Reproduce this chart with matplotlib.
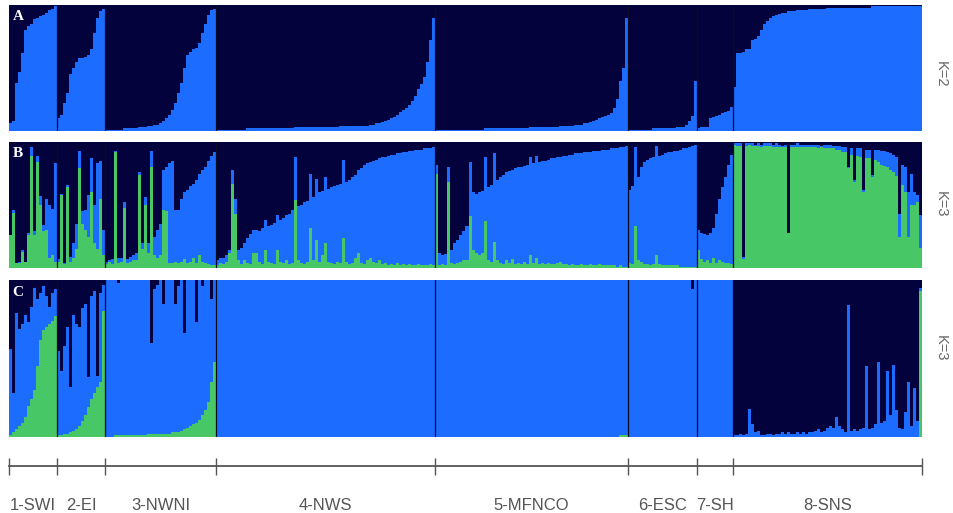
import numpy as np
import matplotlib.pyplot as plt

# --- groups / labels ---
groups = ["1-SWI", "2-EI", "3-NWNI", "4-NWS", "5-MFNCO", "6-ESC", "7-SH", "8-SNS"]
group_sizes = [16, 16, 37, 73, 64, 23, 12, 63]
panel_letters = ["A", "B", "C"]
k_labels = ["K=2", "K=3", "K=3"]

# --- membership proportions (%), one value per individual, groups in order ---
# panel A (K=2): blue cluster, the rest is dark cluster
a_blue = [
    6, 8, 38, 47, 62, 80, 83, 85, 89, 90, 91, 92, 94, 96, 97, 99,
    10, 13, 22, 30, 45, 50, 55, 58, 58, 59, 60, 65, 78, 90, 95, 97,
    1, 1, 1, 1, 1, 1, 2, 2, 2, 2, 2, 3, 3, 3, 4, 4, 5, 5, 6, 8, 10, 13, 17, 22, 30,
    38, 50, 60, 63, 65, 66, 70, 78, 85, 92, 96, 97,
    1, 1, 1, 1, 1, 1, 1, 1, 1, 1, 2, 2, 2, 2, 2, 2, 2, 2, 2, 2, 2, 2, 2, 2, 2, 2,
    3, 3, 3, 3, 3, 3, 3, 3, 3, 3, 3, 3, 3, 3, 3, 4, 4, 4, 4, 4, 4, 4, 4, 4, 4,
    5, 5, 6, 6, 7, 8, 9, 10, 11, 13, 15, 17, 18, 21, 24, 28, 33, 37, 43, 55, 72, 90,
    1, 1, 1, 1, 1, 1, 1, 1, 1, 1, 1, 1, 1, 1, 1, 1, 2, 2, 2, 2, 2, 2, 2, 2, 2, 2,
    2, 2, 2, 2, 2, 3, 3, 3, 3, 3, 3, 3, 3, 3, 3, 4, 4, 4, 4, 4, 5, 5, 5, 6, 6,
    7, 8, 9, 10, 11, 12, 13, 14, 18, 25, 40, 50, 90,
    1, 1, 1, 1, 1, 1, 1, 1, 2, 2, 2, 2, 2, 2, 2, 2, 3, 3, 3, 5, 8, 12, 40,
    2, 3, 3, 3, 10, 11, 12, 13, 14, 15, 16, 19,
    35, 62, 62, 63, 65, 65, 72, 73, 75, 80, 85, 87, 90, 91, 92, 93, 94, 94, 95, 95, 95,
    96, 96, 96, 96, 97, 97, 97, 97, 97, 97, 98, 98, 98, 98, 98, 98, 98, 98, 98, 98,
    98, 98, 98, 98, 98, 99, 99, 99, 99, 99, 99, 99, 99, 99, 99, 99, 99, 99, 99, 99, 99, 99,
]

# panel B (K=3): green and blue clusters, the rest is dark cluster
b_green = [
    26, 44, 4, 4, 13, 5, 26, 89, 26, 84, 50, 29, 30, 8, 10, 5,
    5, 58, 3, 64, 5, 8, 15, 79, 35, 30, 25, 60, 20, 15, 55, 10,
    3, 5, 3, 92, 4, 5, 48, 4, 5, 6, 6, 74, 15, 50, 12, 80, 10, 8, 10, 46,
    45, 4, 4, 5, 4, 5, 7, 4, 5, 8, 4, 10, 5, 4, 3, 2, 2,
    2, 4, 3, 5, 12, 67, 43, 6, 3, 6, 4, 3, 12, 12, 5, 3, 14, 5, 4, 3,
    14, 5, 4, 6, 3, 4, 54, 6, 4, 3, 5, 32, 6, 22, 5, 10, 20, 5, 4, 3,
    5, 4, 24, 5, 3, 4, 8, 12, 4, 3, 6, 8, 5, 4, 6, 3, 4, 2, 3, 2,
    4, 2, 3, 2, 3, 2, 2, 3, 2, 2, 2, 3, 2,
    75, 2, 3, 2, 68, 4, 3, 4, 5, 6, 6, 41, 14, 12, 10, 12, 37, 6, 5, 21,
    6, 4, 3, 6, 4, 7, 3, 4, 3, 5, 3, 10, 4, 8, 3, 4, 3, 4, 3, 3,
    4, 5, 3, 3, 2, 3, 2, 2, 3, 2, 2, 3, 2, 2, 3, 2, 2, 2, 2, 2, 1, 2, 1, 1,
    4, 3, 33, 6, 5, 3, 3, 2, 3, 10, 3, 2, 2, 2, 2, 2, 2, 1, 1, 1, 1, 1, 1,
    14, 7, 5, 6, 4, 8, 4, 6, 5, 4, 4, 3,
    98, 97, 97, 7, 97, 98, 97, 97, 97, 96, 97, 97, 97, 96, 96, 96, 96, 96, 28, 96,
    96, 96, 96, 96, 96, 96, 96, 96, 95, 96, 95, 95, 95, 95, 94, 94, 92, 92, 79, 90,
    68, 89, 88, 60, 87, 87, 72, 86, 84, 82, 81, 80, 78, 76, 73, 25, 66, 60, 25, 50,
    50, 52, 16,
]
b_blue = [
    0, 2, 0, 1, 1, 0, 2, 7, 3, 5, 7, 5, 25, 42, 37, 78,
    2, 1, 1, 2, 4, 12, 20, 14, 10, 16, 33, 27, 30, 68, 30, 20,
    2, 1, 4, 1, 4, 3, 4, 3, 4, 4, 6, 2, 5, 6, 8, 13, 15, 22, 25, 32,
    35, 79, 81, 41, 42, 50, 53, 58, 60, 59, 66, 65, 73, 76, 82, 87, 90,
    4, 4, 5, 5, 2, 11, 12, 8, 13, 14, 20, 24, 18, 18, 24, 29, 24, 28, 30, 33,
    28, 33, 36, 36, 40, 42, 34, 43, 46, 49, 48, 43, 50, 49, 55, 51, 52, 58, 60, 62,
    61, 63, 62, 63, 67, 68, 66, 66, 75, 79, 77, 76, 80, 82, 81, 85, 84, 87, 87, 88,
    87, 89, 89, 90, 90, 91, 92, 91, 92, 93, 93, 92, 94,
    7, 10, 7, 9, 12, 10, 17, 18, 21, 23, 27, 43, 46, 47, 50, 49, 51, 58, 61, 70,
    64, 68, 71, 70, 73, 71, 76, 76, 77, 76, 79, 78, 79, 81, 81, 81, 82, 82, 84, 84,
    84, 83, 86, 86, 88, 87, 89, 89, 88, 90, 90, 89, 91, 91, 90, 92, 92, 92, 93, 93,
    94, 94, 95, 96,
    58, 62, 63, 66, 75, 81, 83, 85, 85, 87, 86, 88, 89, 90, 90, 91, 91, 93, 94, 94,
    95, 96, 97,
    16, 21, 22, 20, 24, 24, 39, 49, 59, 68, 78, 87,
    1, 2, 2, 2, 2, 1, 2, 1, 2, 2, 2, 2, 2, 2, 3, 2, 1, 2, 0, 2,
    2, 3, 2, 2, 2, 2, 2, 2, 3, 1, 3, 3, 3, 2, 3, 3, 4, 4, 1, 5,
    2, 6, 7, 2, 7, 7, 2, 8, 10, 11, 12, 12, 13, 14, 15, 18, 16, 20, 35, 25,
    10, 6, 26,
]

# panel C (K=3): green and blue clusters, the rest is dark cluster
c_green = [
    1, 3, 5, 7, 9, 13, 20, 24, 30, 45, 62, 68, 70, 72, 74, 77,
    1, 1, 2, 2, 3, 4, 5, 7, 10, 14, 19, 24, 28, 32, 35, 80,
    0, 0, 0, 1, 1, 1, 1, 1, 1, 1, 1, 1, 1, 1, 2, 2, 2, 2, 2, 2,
    2, 2, 3, 3, 3, 4, 5, 6, 7, 8, 9, 11, 14, 17, 22, 35, 48,
    0, 0, 0, 0, 0, 0, 0, 0, 0, 0, 0, 0, 0, 0, 0, 0, 0, 0, 0, 0,
    0, 0, 0, 0, 0, 0, 0, 0, 0, 0, 0, 0, 0, 0, 0, 0, 0, 0, 0, 0,
    0, 0, 0, 0, 0, 0, 0, 0, 0, 0, 0, 0, 0, 0, 0, 0, 0, 0, 0, 0,
    0, 0, 0, 0, 0, 0, 0, 0, 0, 0, 0, 0, 0,
    0, 0, 0, 0, 0, 0, 0, 0, 0, 0, 0, 0, 0, 0, 0, 0, 0, 0, 0, 0,
    0, 0, 0, 0, 0, 0, 0, 0, 0, 0, 0, 0, 0, 0, 0, 0, 0, 0, 0, 0,
    0, 0, 0, 0, 0, 0, 0, 0, 0, 0, 0, 0, 0, 0, 0, 0, 0, 0, 0, 0,
    0, 1, 1, 1,
    0, 0, 0, 0, 0, 0, 0, 0, 0, 0, 0, 0, 0, 0, 0, 0, 0, 0, 0, 0,
    0, 0, 0,
    0, 0, 0, 0, 0, 0, 0, 0, 0, 0, 0, 0,
    0, 0, 0, 0, 0, 0, 0, 0, 0, 0, 0, 0, 0, 0, 0, 0, 0, 0, 0, 0,
    0, 0, 0, 0, 0, 0, 0, 0, 0, 0, 0, 0, 0, 0, 0, 0, 0, 0, 0, 0,
    0, 0, 0, 0, 0, 0, 0, 0, 0, 0, 0, 0, 0, 0, 0, 0, 0, 0, 0, 0,
    0, 0, 93,
]
c_blue = [
    55, 25, 74, 62, 63, 65, 53, 59, 65, 43, 30, 28, 20, 11, 18, 17,
    54, 41, 56, 68, 29, 74, 67, 63, 72, 71, 19, 66, 65, 7, 57, 17,
    100, 100, 100, 99, 97, 99, 99, 99, 99, 99, 99, 99, 99, 99, 98, 58, 92, 95, 98, 83,
    98, 98, 97, 82, 93, 96, 61, 94, 93, 92, 64, 89, 82, 83, 78, 53, 52,
    100, 100, 100, 100, 100, 100, 100, 100, 100, 100, 100, 100, 100, 100, 100, 100, 100, 100, 100, 100,
    100, 100, 100, 100, 100, 100, 100, 100, 100, 100, 100, 100, 100, 100, 100, 100, 100, 100, 100, 100,
    100, 100, 100, 100, 100, 100, 100, 100, 100, 100, 100, 100, 100, 100, 100, 100, 100, 100, 100, 100,
    100, 100, 100, 100, 100, 100, 100, 100, 100, 100, 100, 100, 100,
    100, 100, 100, 100, 100, 100, 100, 100, 100, 100, 100, 100, 100, 100, 100, 100, 100, 100, 100, 100,
    100, 100, 100, 100, 100, 100, 100, 100, 100, 100, 100, 100, 100, 100, 100, 100, 100, 100, 100, 100,
    100, 100, 100, 100, 100, 100, 100, 100, 100, 100, 100, 100, 100, 100, 100, 100, 100, 100, 100, 100,
    100, 99, 99, 99,
    100, 100, 100, 100, 100, 100, 100, 100, 100, 100, 100, 100, 100, 100, 100, 100, 100, 100, 100, 100,
    100, 94, 100,
    100, 100, 100, 100, 100, 100, 100, 100, 100, 100, 100, 100,
    1, 1, 2, 1, 2, 18, 8, 3, 4, 1, 1, 2, 2, 1, 2, 2, 3, 2, 3, 2,
    2, 3, 2, 3, 2, 3, 3, 4, 5, 3, 4, 6, 7, 6, 13, 7, 5, 3, 84, 4,
    5, 4, 5, 6, 45, 5, 6, 8, 48, 9, 10, 42, 14, 46, 17, 6, 5, 16, 35, 7,
    31, 10, 2,
]

# --- style ---
col_dark = "#03023c"
col_blue = "#1b6cff"
col_green = "#47c765"
W, H = 954, 513


def box(x0, y0, x1, y1):
    # pixel box (top-left origin) -> figure fraction
    return [x0 / W, 1 - y1 / H, (x1 - x0) / W, (y1 - y0) / H]


n_ind = sum(group_sizes)
edges = np.concatenate([[0], np.cumsum(group_sizes)])
x = np.arange(n_ind)

fig = plt.figure(figsize=(W / 100, H / 100), dpi=100)

panels = [
    ([a_blue], [col_blue], (5, 131), 74),
    ([b_green, b_blue], [col_green, col_blue], (142, 268), 204),
    ([c_green, c_blue], [col_green, col_blue], (280, 437), 348),
]

for p, (layers, colors, (y0, y1), k_y) in enumerate(panels):
    ax = fig.add_axes(box(9, y0, 922, y1))
    ax.set_facecolor(col_dark)
    bottom = np.zeros(n_ind)
    for vals, c in zip(layers, colors):
        v = np.array(vals) / 100.0
        ax.bar(x, v, width=1.0, bottom=bottom, align="edge", color=c,
               linewidth=0, antialiased=False)
        bottom = bottom + v
    ax.bar(x, 1 - bottom, width=1.0, bottom=bottom, align="edge", color=col_dark,
           linewidth=0, antialiased=False)
    for e in edges[1:-1]:
        ax.axvline(e, color="#0b0b22", lw=0.9)
    ax.set_xlim(0, n_ind)
    ax.set_ylim(0, 1)
    ax.axis("off")
    ax.text(0.004, 0.96, panel_letters[p], transform=ax.transAxes, color="white",
            fontsize=11, fontweight="bold", family="Liberation Serif", va="top", ha="left")
    fig.text(941 / W, 1 - k_y / H, k_labels[p], rotation=270, color="#666666",
             fontsize=10.5, family="Liberation Sans", ha="center", va="center")

# --- group scale bar at the bottom ---
axs = fig.add_axes(box(9, 445, 922, 513))
axs.set_xlim(0, n_ind)
axs.set_ylim(513, 445)
axs.axis("off")
axs.plot([0, n_ind], [466, 466], color="#555555", lw=1.3, clip_on=False)
axs.vlines(edges, 458, 475, color="#555555", lw=1.0, clip_on=False)
centers = (edges[:-1] + edges[1:]) / 2
for c, name in zip(centers, groups):
    axs.text(c, 505, name, ha="center", va="center", fontsize=12,
             family="Liberation Sans", color="#555555")

fig.savefig("out.png", dpi=100)
